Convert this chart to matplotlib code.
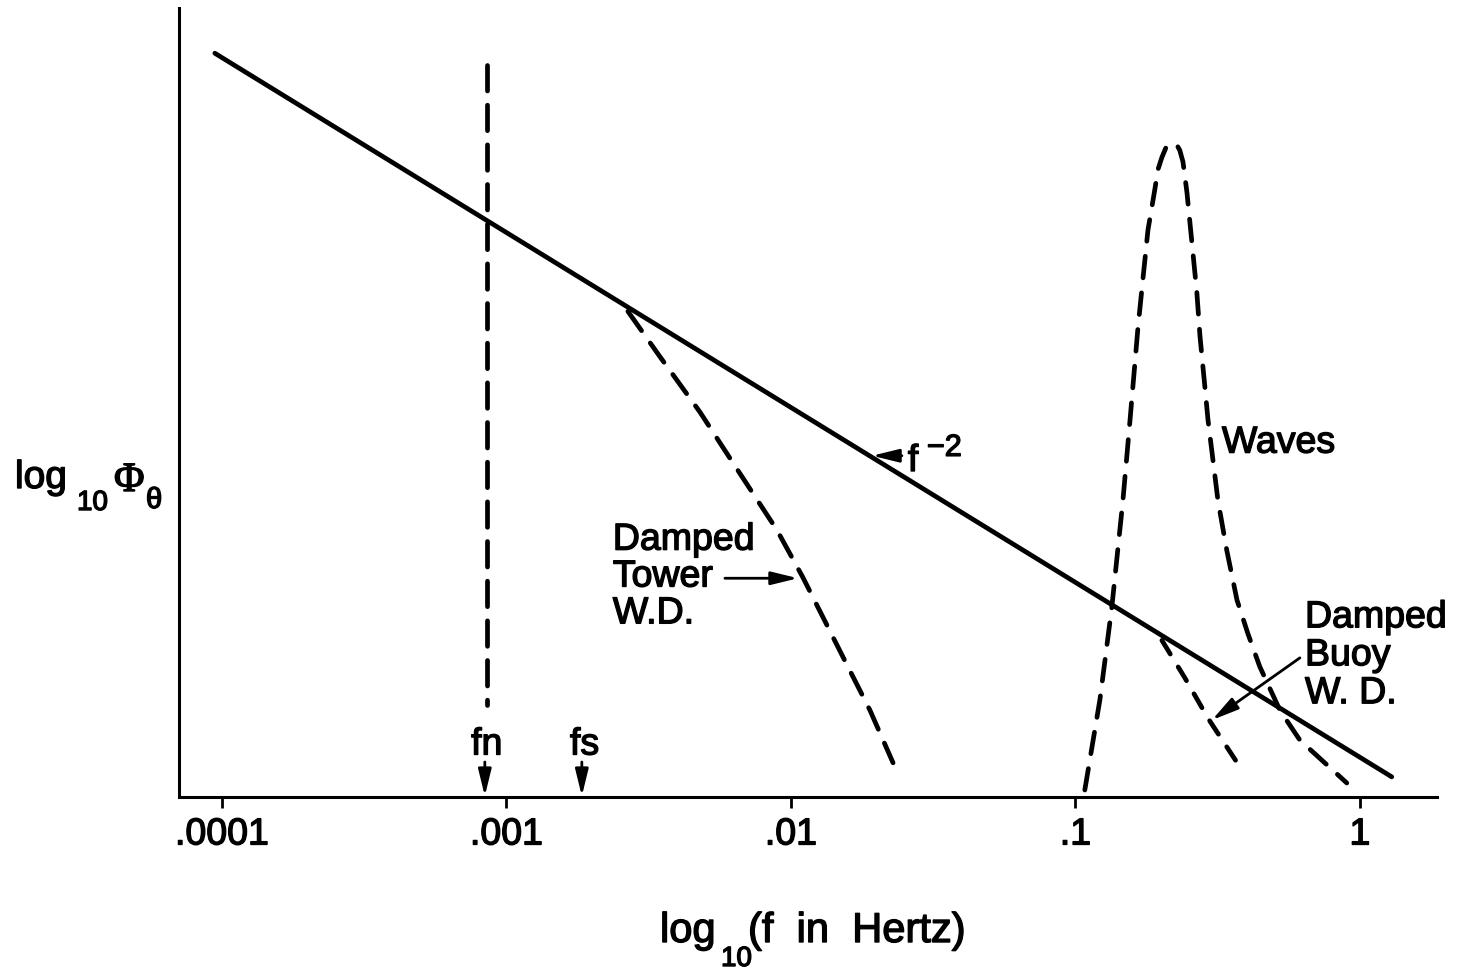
import matplotlib
matplotlib.use("Agg")
import matplotlib.pyplot as plt
import matplotlib.patheffects as pe

plt.rcParams["font.family"] = ["Liberation Sans", "DejaVu Sans"]
plt.rcParams["mathtext.fontset"] = "custom"
plt.rcParams["mathtext.rm"] = "Liberation Sans"
plt.rcParams["mathtext.it"] = "Liberation Sans"
plt.rcParams["mathtext.default"] = "regular"

# x values are log10(f / Hz); y values are log10(Phi_theta) in arbitrary units
tick_pos = [-4, -3, -2, -1, 0]
tick_labels = [".0001", ".001", ".01", ".1", "1"]

# f^-2 reference spectrum (end points)
line_x = [-4.025, 0.112]
line_y = [8.50, 0.23]

# natural frequency fn and sampling-related frequency fs
fn_x = -3.069
fn_y = [8.37, 1.05]
fn_arrow_x = -3.076
fs_arrow_x = -2.735

# damped tower wind-direction spectrum
tower_x = [-2.573, -2.460, -2.320, -2.204, -2.049, -1.958, -1.817, -1.722, -1.641]
tower_y = [5.55, 5.03, 4.40, 3.82, 3.05, 2.51, 1.60, 0.99, 0.39]

# wave spectrum
wave_x = [-0.967, -0.914, -0.872, -0.833, -0.808, -0.780, -0.763, -0.745, -0.721,
          -0.710, -0.696, -0.682, -0.661, -0.643, -0.633, -0.622, -0.608, -0.587,
          -0.573, -0.562, -0.545, -0.534, -0.499, -0.468, -0.432, -0.394, -0.352,
          -0.281, -0.211, -0.046]
wave_y = [0.08, 1.11, 2.17, 3.39, 4.31, 5.37, 5.91, 6.48, 6.94,
          7.17, 7.31, 7.42, 7.47, 7.45, 7.39, 7.26, 6.91, 6.22,
          5.76, 5.26, 4.69, 4.31, 3.39, 2.82, 2.25, 1.87, 1.49,
          0.99, 0.65, 0.16]

# damped buoy wind-direction spectrum
buoy_x = [-0.696, -0.615, -0.534, -0.415]
buoy_y = [1.79, 1.36, 0.90, 0.31]

W, H = 1467, 975
fig = plt.figure(figsize=(W / 100, H / 100), dpi=100)
ax = fig.add_axes([179 / W, 1 - 797 / H, (1437 - 179) / W, (797 - 8) / H])
ax.set_xlim(-4.151, 0.271)
ax.set_ylim(0, 9.017)

for side in ("top", "right"):
    ax.spines[side].set_visible(False)
for side in ("left", "bottom"):
    ax.spines[side].set_linewidth(2.2)

bold = [pe.withStroke(linewidth=1.0, foreground="black")]

ax.set_xticks(tick_pos)
ax.set_xticklabels(tick_labels, fontsize=27)
for lab in ax.get_xticklabels():
    lab.set_path_effects(bold)
ax.set_yticks([])
ax.tick_params(axis="x", direction="out", length=8, width=2, pad=6)

dash_kw = dict(color="black", lw=3.4, dash_capstyle="round", solid_capstyle="round")

ax.plot(line_x, line_y, color="black", lw=3.4, solid_capstyle="round")
ax.plot([fn_x, fn_x], fn_y, dashes=(5.4, 3.0), **dash_kw)
ax.plot(tower_x, tower_y, dashes=(5.0, 3.2), **dash_kw)
ax.plot(wave_x, wave_y, dashes=(4.6, 3.2), **dash_kw)
ax.plot(buoy_x, buoy_y, dashes=(3.4, 3.2), **dash_kw)

arrow = dict(arrowstyle="-|>,head_length=0.9,head_width=0.22", color="black",
             lw=2, shrinkA=0, shrinkB=0, mutation_scale=18)

txt = dict(fontsize=27, path_effects=bold)

# fn / fs markers on the frequency axis
ax.annotate("", xy=(fn_arrow_x, 0.01), xytext=(fn_arrow_x, 0.40), arrowprops=arrow)
ax.annotate("", xy=(fs_arrow_x, 0.01), xytext=(fs_arrow_x, 0.40), arrowprops=arrow)
ax.text(fn_arrow_x + 0.007, 0.60, "fn", ha="center", va="center", **txt)
ax.text(fs_arrow_x + 0.010, 0.60, "fs", ha="center", va="center", **txt)

# labels with pointers
ax.annotate("", xy=(-1.715, 3.90), xytext=(-1.610, 3.90), arrowprops=arrow)
ax.text(-1.589, 3.84, "f", ha="left", va="center", **txt)
ax.text(-1.522, 3.99, "−2", ha="left", va="center", fontsize=22, path_effects=bold)

ax.annotate("", xy=(-1.975, 2.50), xytext=(-2.232, 2.50), arrowprops=arrow)
ax.text(-2.626, 2.52, "Damped\nTower\nW.D.", ha="left", va="center",
        linespacing=1.03, **txt)

ax.text(-0.485, 4.05, "Waves", ha="left", va="center", **txt)

ax.annotate("", xy=(-0.520, 0.88), xytext=(-0.211, 1.59), arrowprops=arrow)
ax.text(-0.193, 1.62, "Damped\nBuoy\nW. D.", ha="left", va="center",
        linespacing=1.07, **txt)

# axis titles, assembled piece by piece
def ftext(px, py, s, size, **kw):
    fig.text(px / W, 1 - py / H, s, fontsize=size, ha="left", va="baseline",
             path_effects=bold, **kw)

ftext(660, 942, "log", 30)
ftext(721, 966, "10", 20)
ftext(748, 942, "(f  in  Hertz)", 30)

ftext(15, 488, "log", 28)
ftext(77, 510, "10", 20)
ftext(114, 491, "Φ", 30, family="Liberation Serif")
ftext(146, 508, "θ", 21)

fig.savefig("out.png", dpi=100, facecolor="white")
